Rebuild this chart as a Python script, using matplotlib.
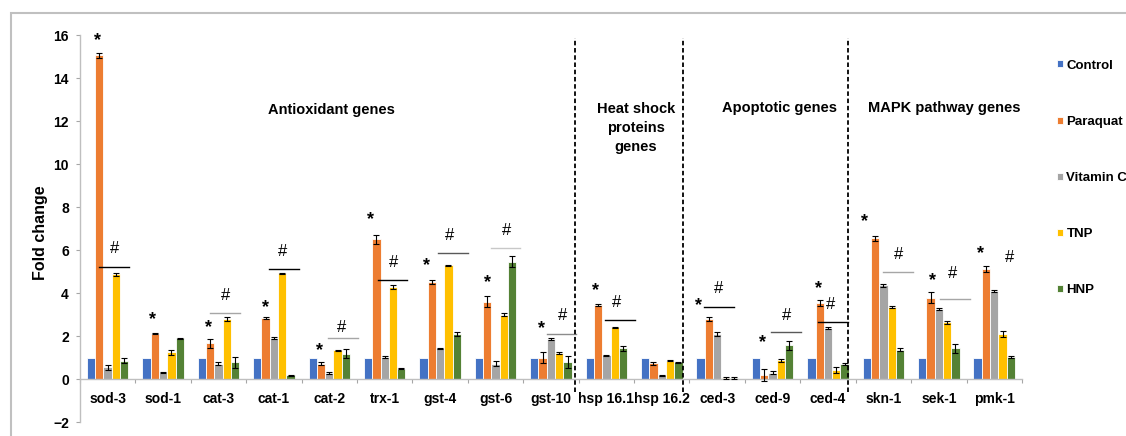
import matplotlib
matplotlib.use("Agg")
import matplotlib.pyplot as plt
import numpy as np
from matplotlib.patches import Rectangle

plt.rcParams['font.family'] = ['Liberation Sans', 'DejaVu Sans']
plt.rcParams['font.weight'] = 'bold'
plt.rcParams['axes.labelweight'] = 'bold'

genes = ["sod-3", "sod-1", "cat-3", "cat-1", "cat-2", "trx-1", "gst-4", "gst-6", "gst-10",
         "hsp 16.1", "hsp 16.2", "ced-3", "ced-9", "ced-4", "skn-1", "sek-1", "pmk-1"]
treatments = ["Control", "Paraquat", "Vitamin C", "TNP", "HNP"]

control = [1.0, 1.0, 1.0, 1.0, 1.0, 1.0, 1.0, 1.0, 1.0, 1.0, 1.0, 1.0, 1.0, 1.0, 1.0, 1.0, 1.0]
paraquat = [15.05, 2.10, 1.66, 2.85, 0.72, 6.50, 4.52, 3.60, 1.00, 3.45, 0.74, 2.80, 0.17, 3.53, 6.55, 3.78, 5.12]
vitamin_c = [0.54, 0.30, 0.72, 1.90, 0.28, 1.02, 1.42, 0.72, 1.86, 1.11, 0.18, 2.10, 0.30, 2.37, 4.35, 3.25, 4.10]
tnp = [4.87, 1.24, 2.80, 4.92, 1.33, 4.27, 5.28, 3.00, 1.21, 2.40, 0.86, 0.04, 0.88, 0.42, 3.34, 2.63, 2.09]
hnp = [0.85, 1.90, 0.78, 0.18, 1.18, 0.48, 2.10, 5.45, 0.80, 1.42, 0.78, 0.04, 1.56, 0.70, 1.36, 1.42, 1.04]

err_control = [0, 0, 0, 0, 0, 0, 0, 0, 0, 0, 0, 0, 0, 0, 0, 0, 0]
err_paraquat = [0.12, 0.02, 0.20, 0.04, 0.06, 0.22, 0.08, 0.25, 0.25, 0.06, 0.07, 0.08, 0.28, 0.15, 0.12, 0.25, 0.12]
err_vitamin_c = [0.10, 0.02, 0.05, 0.06, 0.06, 0.05, 0.02, 0.10, 0.03, 0.02, 0.02, 0.10, 0.05, 0.05, 0.08, 0.04, 0.05]
err_tnp = [0.08, 0.13, 0.08, 0.02, 0.04, 0.10, 0.02, 0.05, 0.06, 0.04, 0.02, 0.05, 0.07, 0.15, 0.05, 0.07, 0.15]
err_hnp = [0.12, 0.02, 0.25, 0.02, 0.20, 0.02, 0.10, 0.25, 0.28, 0.13, 0.03, 0.05, 0.20, 0.05, 0.08, 0.20, 0.05]

# significance marks: * vs control, # vs paraquat (None = no mark)
star_y = [16.0, 3.03, 2.68, 3.6, 1.6, 7.68, 5.54, 4.74, 2.6, 4.41, None, 3.68, 1.98, 4.49, 7.59, 4.85, 6.12]
star_dx = [-0.18, -0.19, -0.18, -0.16, -0.17, -0.25, -0.25, -0.15, -0.17, -0.19, None, -0.34, -0.18, -0.18, -0.35, -0.12, -0.25]
hash_y = [6.1, None, 3.95, 6.0, 2.45, 5.47, 6.74, 6.97, 2.99, 3.6, None, 4.27, 3.02, 3.53, 5.82, 4.95, 5.7]
hash_dx = [0.13, None, 0.135, 0.16, 0.23, 0.155, 0.17, 0.19, 0.21, 0.19, None, 0.03, 0.26, 0.05, 0.27, 0.24, 0.27]
line_y = [5.23, None, 3.05, 5.13, 1.93, 4.61, 5.85, 6.09, 2.1, 2.76, None, 3.37, 2.17, 2.65, 4.97, 3.73, None]
line_x0 = [-0.15, None, -0.15, -0.08, -0.02, -0.13, -0.03, -0.09, -0.08, -0.02, None, -0.24, -0.03, -0.18, -0.01, 0.02, None]
line_colors = ["black", None, "#a6a6a6", "black", "#a6a6a6", "black", "#595959", "#c8c8c8", "#8c8c8c",
               "black", None, "black", "#595959", "black", "#a6a6a6", "#a6a6a6", None]

colors = ["#4472C4", "#ED7D31", "#A5A5A5", "#FFC000", "#548235"]
series = [control, paraquat, vitamin_c, tnp, hnp]
errors = [err_control, err_paraquat, err_vitamin_c, err_tnp, err_hnp]

fig = plt.figure(figsize=(11.26, 4.36), dpi=100)
ax = fig.add_axes([0.0710, 0.0321, 0.8366, 0.8876])

x = np.arange(len(genes))
w = 0.15
handles = []
for k in range(5):
    pos = x + (k - 2) * w
    b = ax.bar(pos, series[k], w, color=colors[k], edgecolor="white", linewidth=0.6, zorder=2)
    handles.append(b)
    if k > 0:
        ax.errorbar(pos, series[k], yerr=errors[k], fmt="none", ecolor="black",
                    elinewidth=0.8, capsize=2.4, capthick=0.8, zorder=3)

for i in range(len(genes)):
    if star_y[i] is not None:
        ax.annotate("*", (i + star_dx[i], star_y[i]), xytext=(0, -7.5), textcoords="offset points",
                    ha="center", va="baseline", fontsize=13)
    if hash_y[i] is not None:
        ax.annotate("#", (i + hash_dx[i], hash_y[i]), xytext=(0, -4), textcoords="offset points",
                    ha="center", va="baseline", fontsize=12, fontweight="normal")
    if line_y[i] is not None:
        ax.plot([i + line_x0[i], i + line_x0[i] + 0.54], [line_y[i], line_y[i]],
                color=line_colors[i], lw=1.0, zorder=3)

# dashed separators between gene families
for xd in [8.435, 10.38, 13.36]:
    ax.plot([xd, xd], [-0.62, 15.85], color="black", lw=1.3, ls=(0, (2.5, 1.5)), zorder=4)

grp_font = dict(fontsize=10.5, ha="center", va="center")
ax.text(4.04, 12.5, "Antioxidant genes", **grp_font)
ax.text(9.53, 11.68, "Heat shock\nproteins\ngenes", linespacing=1.45, **grp_font)
ax.text(12.13, 12.6, "Apoptotic genes", **grp_font)
ax.text(15.1, 12.6, "MAPK pathway genes", **grp_font)

ax.set_xlim(-0.5, 16.5)
ax.set_ylim(-2, 16)
ax.set_yticks(np.arange(-2, 17, 2))
ax.tick_params(axis="y", length=3, color="#a6a6a6", labelsize=10, pad=5)

ax.set_xticks(np.arange(-0.5, 17, 1))
ax.set_xticklabels([])
ax.set_xticks(x, minor=True)
ax.set_xticklabels(genes, minor=True)
ax.tick_params(axis="x", which="major", length=3, color="#a6a6a6")
ax.tick_params(axis="x", which="minor", length=0, pad=9.5, labelsize=10)

ax.spines["bottom"].set_position(("data", 0))
for s in ["top", "right"]:
    ax.spines[s].set_visible(False)
for s in ["left", "bottom"]:
    ax.spines[s].set_color("#bfbfbf")
    ax.spines[s].set_linewidth(1.0)

ax.set_ylabel("Fold change", fontsize=11.5, fontweight="bold")
ax.yaxis.set_label_coords(-0.034, 0.49)

fig.legend(handles, treatments, loc="upper left", bbox_to_anchor=(1050 / 1126, 1 - 53 / 436),
           frameon=False, borderpad=0, handlelength=0.45, handleheight=0.45, handletextpad=0.3,
           labelspacing=3.35, prop={"size": 9.5, "weight": "bold"})

fig.patches.append(Rectangle((11 / 1126, -0.1), 1.2, 1.1 - 13 / 436, transform=fig.transFigure,
                             fill=False, edgecolor="#c0c0c0", linewidth=1.5))

fig.savefig("out.png", dpi=100)
